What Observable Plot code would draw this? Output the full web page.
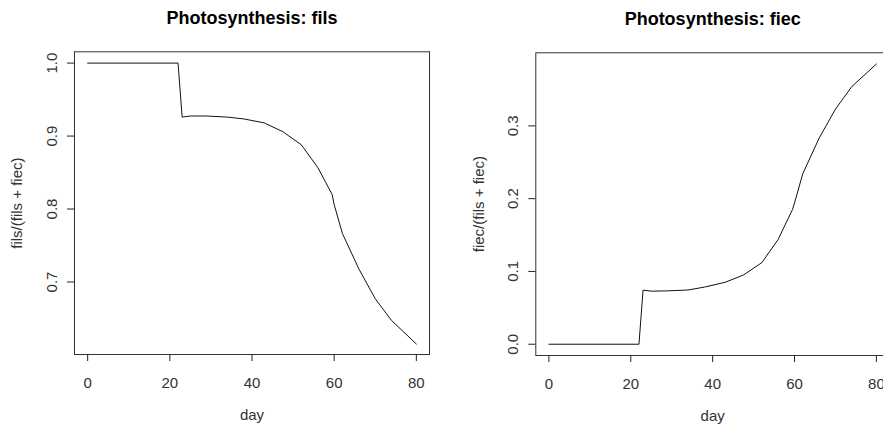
<!DOCTYPE html>
<html><head><meta charset="utf-8">
<script src="https://cdn.jsdelivr.net/npm/d3@7"></script>
<script src="https://cdn.jsdelivr.net/npm/@observablehq/plot@0.6"></script>
<style>
html,body{margin:0;padding:0;background:#fff;overflow:hidden;}
#wrap{position:relative;width:883px;height:427px;overflow:hidden;background:#fff;}
#left{position:absolute;left:0;top:0;width:441px;}
#right{position:absolute;left:441px;top:0;width:460px;}
#wrap svg{max-width:none !important;}
</style></head><body><div id="wrap"><div id="left"></div><div id="right"></div></div>
<script>
// Data
const days       = [0, 22, 23, 25, 29, 34, 38, 43, 47.5, 52, 56, 59.5, 60, 62, 66, 70, 74, 80];
const filsShare  = [1.0, 1.0, 0.926, 0.9275, 0.9275, 0.926, 0.9235, 0.918, 0.906, 0.888, 0.857, 0.82, 0.806, 0.7665, 0.718, 0.677, 0.647, 0.615];
const fiecShare  = [0, 0, 0.0743, 0.0729, 0.0733, 0.0745, 0.0785, 0.085, 0.095, 0.112, 0.144, 0.185, 0.194, 0.234, 0.283, 0.323, 0.354, 0.385];
const xTicks     = [0, 20, 40, 60, 80];
const filsTicks  = [0.7, 0.8, 0.9, 1.0];
const fiecTicks  = [0.0, 0.1, 0.2, 0.3];
const titles     = ["Photosynthesis: fils", "Photosynthesis: fiec"];
const yLabels    = ["fils/(fils + fiec)", "fiec/(fils + fiec)"];
const xLabel     = "day";

const FONT = "'Liberation Sans', Arial, sans-serif";
const fmt = d3.format(".1f");

function panel({values, yTicks, title, yLabel, width, marginLeft, marginRight, marginTop, marginBottom, yDomain}) {
  const rows = days.map((d, i) => ({day: d, v: values[i]}));
  return Plot.plot({
    width, height: 427,
    marginLeft, marginRight, marginTop, marginBottom,
    style: {fontFamily: FONT, fontSize: "15px", background: "white", color: "#000", overflow: "visible", maxWidth: "none"},
    x: {domain: [-3.2, 83.2]},
    y: {domain: yDomain},
    marks: [
      Plot.frame({stroke: "#333", strokeWidth: 1}),
      Plot.axisX({ticks: xTicks, tickSize: 7, tickFormat: () => "", label: null, stroke: "#222"}),
      Plot.axisY({ticks: yTicks, tickSize: 7, tickFormat: () => "", label: null, stroke: "#222"}),
      Plot.text(xTicks, {x: d => d, frameAnchor: "bottom", dy: 28.7, text: d => String(d), fontSize: 15, fill: "#333", lineAnchor: "middle", textAnchor: "middle"}),
      Plot.text(yTicks, {y: d => d, frameAnchor: "left", dx: -22.3, rotate: -90, text: d => fmt(d), fontSize: 15, fill: "#333", lineAnchor: "middle", textAnchor: "middle"}),
      Plot.text([title], {frameAnchor: "top", dy: -33.3, text: d => d, fontSize: 18, fontWeight: "bold", fill: "#000", lineAnchor: "middle"}),
      Plot.text([xLabel], {frameAnchor: "bottom", dy: 61, text: d => d, fontSize: 15, fill: "#333", lineAnchor: "middle"}),
      Plot.text([yLabel], {frameAnchor: "left", dx: -57, rotate: -90, text: d => d, fontSize: 15, fill: "#333", lineAnchor: "middle", textAnchor: "middle"}),
      Plot.line(rows, {x: "day", y: "v", stroke: "#111", strokeWidth: 1})
    ]
  });
}

document.getElementById("left").appendChild(panel({
  values: filsShare, yTicks: filsTicks, title: titles[0], yLabel: yLabels[0],
  width: 441, marginLeft: 74, marginRight: 12, marginTop: 51.3, marginBottom: 73,
  yDomain: [0.6006, 1.0155]
}));
document.getElementById("right").appendChild(panel({
  values: fiecShare, yTicks: fiecTicks, title: titles[1], yLabel: yLabels[1],
  width: 460, marginLeft: 94.3, marginRight: 12, marginTop: 52.3, marginBottom: 72,
  yDomain: [-0.0155, 0.4004]
}));
</script>
</body></html>
